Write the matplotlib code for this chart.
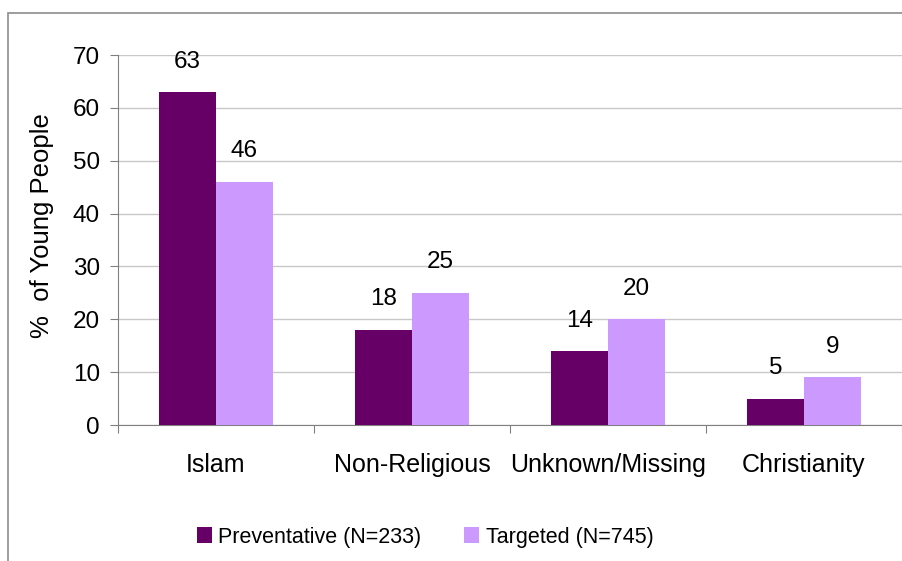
import numpy as np
import matplotlib
matplotlib.use("Agg")
import matplotlib.pyplot as plt
from matplotlib.patches import Rectangle

categories = ["Islam", "Non-Religious", "Unknown/Missing", "Christianity"]
preventative = [63, 18, 14, 5]
targeted = [46, 25, 20, 9]
series_names = ["Preventative (N=233)", "Targeted (N=745)"]
yticks = [0, 10, 20, 30, 40, 50, 60, 70]

plt.rcParams['font.family'] = ['Liberation Sans', 'DejaVu Sans']

fig = plt.figure(figsize=(9.03, 5.61), dpi=100)
ax = fig.add_axes([118/903, 136/561, 784/903, 370/561])

x = np.arange(len(categories))
w = 0.29
dark = '#660066'
light = '#CC99FF'
b1 = ax.bar(x - w/2, preventative, w, color=dark, label=series_names[0], zorder=3)
b2 = ax.bar(x + w/2, targeted, w, color=light, label=series_names[1], zorder=3)

for bars, vals in [(b1, preventative), (b2, targeted)]:
    for rect, v in zip(bars, vals):
        ax.annotate(str(v), (rect.get_x() + rect.get_width()/2, v),
                    xytext=(0, 14), textcoords='offset points',
                    ha='center', va='bottom', fontsize=17.5)

ax.set_xlim(-0.5, len(categories) - 0.5)
ax.set_ylim(0, 70)
ax.set_yticks(yticks)
ax.yaxis.grid(True, color='#C8C8C8', linewidth=1, zorder=0)
ax.tick_params(axis='y', labelsize=17.5, length=6, pad=7, color='#808080')

# boundary ticks, labels at centres
ax.set_xticks(np.arange(len(categories) + 1) - 0.5)
ax.set_xticklabels([])
ax.set_xticks(x, minor=True)
ax.set_xticklabels(categories, minor=True)
ax.tick_params(axis='x', which='major', length=6, color='#808080')
ax.tick_params(axis='x', which='minor', length=0, labelsize=18, pad=20)

for s in ['top', 'right']:
    ax.spines[s].set_visible(False)
for s in ['left', 'bottom']:
    ax.spines[s].set_color('#808080')

ax.set_ylabel('%  of Young People', fontsize=18.5)
ax.yaxis.set_label_coords(-0.082, 0.54)

fig.legend(loc='center', bbox_to_anchor=(425/903, 1 - 537/561), ncol=2,
           frameon=False, fontsize=15.5, handlelength=0.7, handleheight=0.7,
           handletextpad=0.3, columnspacing=2.0)

fig.patches.append(Rectangle((8/903, -0.1), 1.2, 1.1 - 13/561,
                             transform=fig.transFigure, fill=False,
                             edgecolor='#8C8C8C', linewidth=1.2))

fig.savefig('out.png', dpi=100)
